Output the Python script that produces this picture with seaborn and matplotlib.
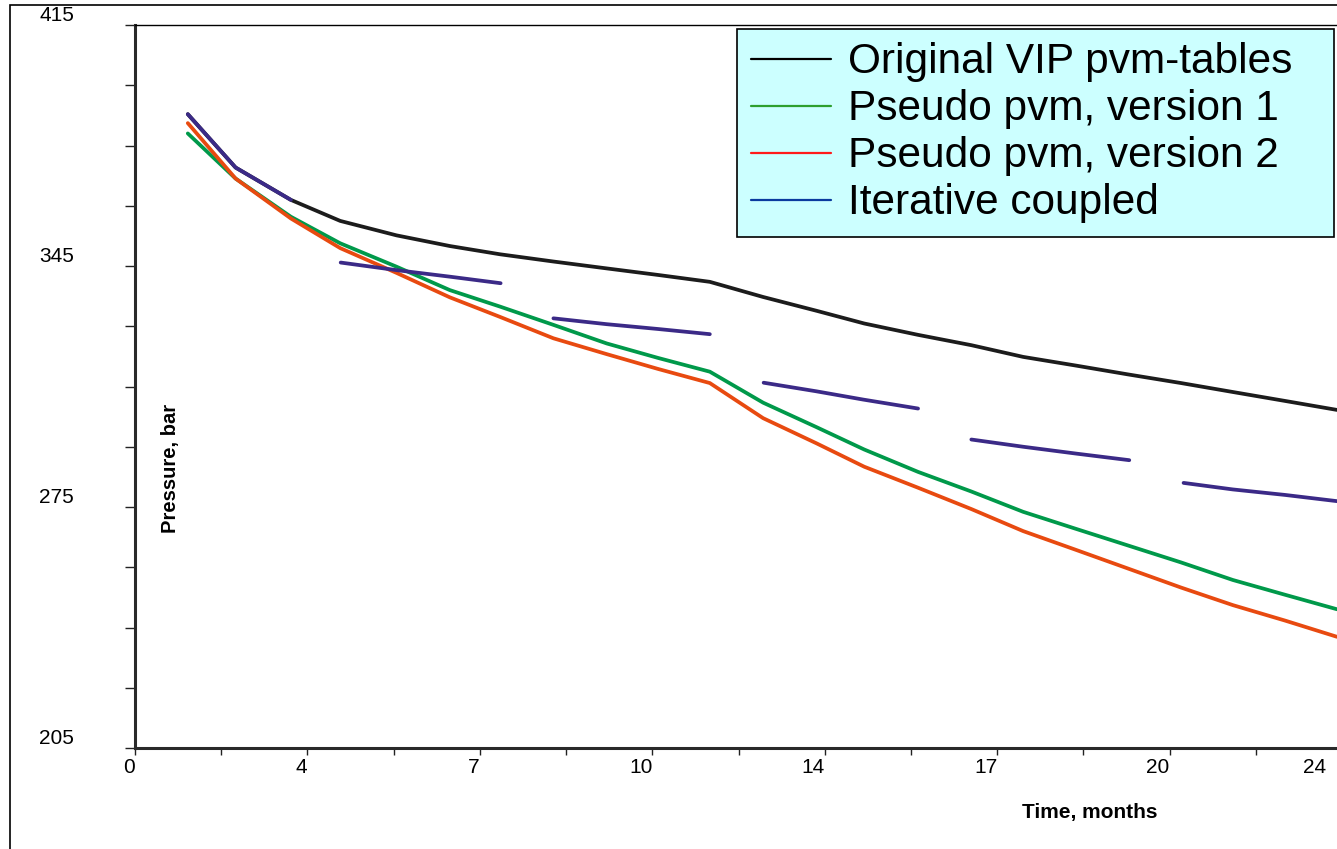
import numpy as np
import pandas as pd
import matplotlib
matplotlib.use("Agg")
import matplotlib.pyplot as plt
import seaborn as sns
from matplotlib.lines import Line2D
from matplotlib.patches import Rectangle
from matplotlib.transforms import ScaledTranslation

# time nodes (months)
time = [1.05, 2.0, 3.1, 4.08, 5.2, 6.26, 7.26, 8.32, 9.38, 10.4, 11.43, 12.49,
        13.55, 14.5, 15.57, 16.63, 17.66, 18.7, 19.75, 20.8, 21.83, 22.87, 23.9]

original_vip = [389.1, 373.6, 364.2, 358.1, 353.9, 350.8, 348.4, 346.3, 344.3, 342.4, 340.4, 336.0,
                332.0, 328.3, 325.0, 322.0, 318.6, 316.1, 313.5, 311.0, 308.4, 305.8, 303.2]
pseudo_v1 = [383.5, 370.4, 359.3, 351.6, 344.8, 338.0, 333.2, 327.9, 322.5, 318.3, 314.3, 305.3,
             298.2, 291.7, 285.2, 279.5, 273.6, 268.7, 263.8, 258.9, 253.8, 249.5, 245.3]
pseudo_v2 = [386.5, 370.4, 358.8, 350.2, 343.0, 335.9, 330.2, 324.0, 319.4, 315.1, 311.0, 300.8,
             293.5, 286.7, 280.6, 274.4, 268.0, 262.6, 257.1, 251.6, 246.5, 242.0, 237.3]

# iterative coupled runs restart every few steps -> separate segments
coupled_time = [1.05, 2.0, 3.1,
                4.09, 5.2, 6.26, 7.27,
                8.32, 9.38, 10.4, 11.43,
                12.5, 13.55, 14.48, 15.57,
                16.63, 17.66, 18.72, 19.77,
                20.85, 21.83, 22.87, 23.9]
coupled_pressure = [389.1, 373.6, 364.2,
                    346.0, 343.8, 341.9, 340.0,
                    329.8, 328.1, 326.7, 325.2,
                    311.1, 308.6, 306.2, 303.6,
                    294.6, 292.5, 290.5, 288.6,
                    282.0, 280.1, 278.5, 276.7]
coupled_segment = [0, 0, 0, 1, 1, 1, 1, 2, 2, 2, 2, 3, 3, 3, 3, 4, 4, 4, 4, 5, 5, 5, 5]

x_tick_labels = ["0", "4", "7", "10", "14", "17", "20", "24"]
y_ticks = [205, 275, 345, 415]
legend_labels = ["Original VIP pvm-tables", "Pseudo pvm, version 1",
                 "Pseudo pvm, version 2", "Iterative coupled"]

line_colors = ["#1c1c1c", "#00994a", "#e84a10", "#3b2a87"]
legend_colors = ["#000000", "#2e9e2e", "#ff1a1a", "#0a3a9e"]

sns.set_style("white")
plt.rcParams["font.family"] = ["Liberation Sans", "DejaVu Sans"]
plt.rcParams["text.color"] = "black"
plt.rcParams["axes.labelcolor"] = "black"
plt.rcParams["xtick.color"] = "black"
plt.rcParams["ytick.color"] = "black"

df = pd.DataFrame({"time": time, "orig": original_vip, "v1": pseudo_v1, "v2": pseudo_v2})
coupled = pd.DataFrame({"time": coupled_time, "pressure": coupled_pressure, "seg": coupled_segment})

fig = plt.figure(figsize=(13.37, 8.49), dpi=100)
ax = fig.add_axes([135 / 1337, 1 - 748 / 849, 1207 / 1337, 723 / 849])

lw = 2.7
sns.lineplot(data=df, x="time", y="orig", color=line_colors[0], lw=lw, ax=ax)
sns.lineplot(data=df, x="time", y="v1", color=line_colors[1], lw=lw, ax=ax)
sns.lineplot(data=df, x="time", y="v2", color=line_colors[2], lw=lw, ax=ax)
sns.lineplot(data=coupled, x="time", y="pressure", units="seg", estimator=None,
             color=line_colors[3], lw=lw, ax=ax)

ax.set_xlim(0, 24)
ax.set_ylim(205, 415)

xt = np.arange(len(x_tick_labels)) * 24 / 7
ax.set_xticks(xt)
ax.set_xticklabels(x_tick_labels, ha="right")
ax.set_xticks((xt[:-1] + xt[1:]) / 2, minor=True)
ax.set_yticks(y_ticks)
ax.set_yticklabels([str(v) for v in y_ticks], va="bottom")
ax.set_yticks(np.arange(205, 416, 17.5), minor=True)

ax.tick_params(axis="x", which="both", direction="out", length=5, width=1, color="#222222",
               labelsize=15, pad=2, bottom=True)
ax.tick_params(axis="y", which="both", direction="out", length=7, width=1, color="#222222",
               labelsize=15, pad=37, left=True)

# last x label sits off the right edge; nudge it inside like the original
last = ax.xaxis.get_major_ticks()[-1].label1
last.set_transform(last.get_transform() + ScaledTranslation(-0.16, 0, fig.dpi_scale_trans))

for side in ["left", "bottom"]:
    ax.spines[side].set_linewidth(2.2)
    ax.spines[side].set_color("#2a2a2a")
ax.spines["top"].set_linewidth(1.0)
ax.spines["top"].set_color("#000000")
ax.spines["right"].set_visible(False)

ax.set_xlabel("Time, months", fontsize=15, fontweight="bold")
ax.set_ylabel("Pressure, bar", fontsize=14.5, fontweight="bold")
ax.xaxis.set_label_coords(0.791, -0.076)
ax.yaxis.label.set_va("center")
ax.yaxis.set_label_coords(0.029, 0.387)

handles = [Line2D([0], [0], color=c, lw=1.6) for c in legend_colors]
leg = ax.legend(handles, legend_labels, loc="upper left",
                bbox_to_anchor=(737 / 1337, 1 - 37 / 849, (1334 - 737) / 1337, 0.01),
                bbox_transform=fig.transFigure, mode="expand",
                fontsize=30.5, frameon=True, fancybox=False, framealpha=1,
                borderpad=0.33, labelspacing=0.165, handlelength=1.9, handletextpad=0.4,
                borderaxespad=0)
leg.get_frame().set_facecolor("#ccffff")
leg.get_frame().set_edgecolor("#000000")
leg.get_frame().set_linewidth(1.2)

# outer frame
fig.add_artist(Rectangle((10 / 1337, -0.1), 1.1, 1.1 - 5 / 849, transform=fig.transFigure,
                         fill=False, lw=1.2, ec="black"))

fig.savefig("out.png", dpi=100)
